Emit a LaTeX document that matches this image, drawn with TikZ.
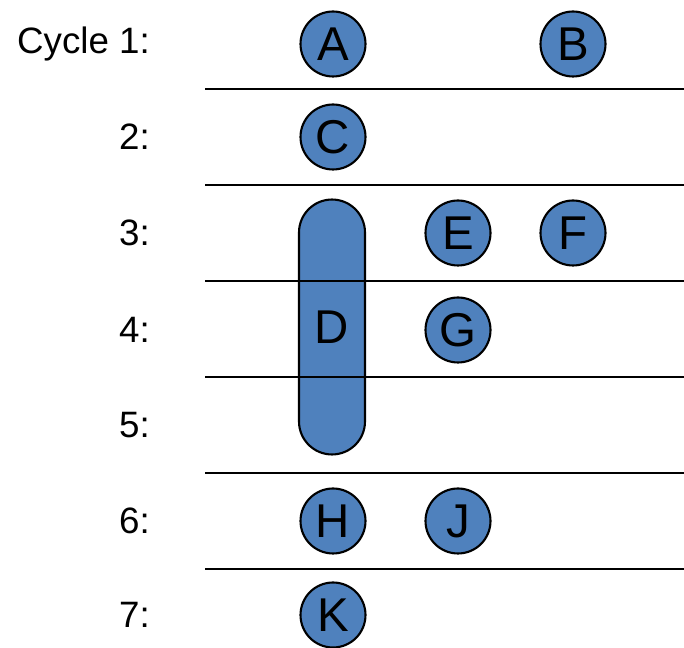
\documentclass[tikz,border=0pt]{standalone}
\usepackage{fontspec}
\setmainfont{Liberation Sans}
\usepackage{tikz}
\usetikzlibrary{positioning,calc}
\definecolor{opblue}{RGB}{79,129,189}
\tikzset{
    op/.style={circle,draw=black,line width=1.2pt,fill=opblue,minimum size=1.3cm,inner sep=0pt,
        font=\fontsize{27}{30}\selectfont},
    longop/.style={rectangle,rounded corners=0.66cm,draw=black,line width=1.2pt,fill=opblue,
        minimum width=1.32cm,minimum height=5.1cm,inner sep=0pt,font=\fontsize{27}{30}\selectfont},
    cyc/.style={anchor=east,font=\fontsize{20.9}{24}\selectfont},
    sep/.style={line width=0.8pt}
}
\begin{document}
\begin{tikzpicture}[x=0.02cm,y=-0.02cm]
    \useasboundingbox (0,0) rectangle (684,648);
    % Cycle labels
    \node[cyc] (c1) at (156,44) {Cycle 1:};
    \foreach \n/\y in {2/137,3/233,4/330,5/425,6/521,7/615}
        \node[cyc] (c\n) at (156,\y) {\n:};
    % Multi-cycle operation
    \node[longop] (D) at (332,327) {D};
    % Separators
    \foreach \y in {89,185,281,377,473,569}
        \draw[sep] (205,\y) -- (684,\y);
    % Single-cycle operations
    \node[op] (A) at (333,44) {A};
    \node[op] (B) at (573,44) {B};
    \node[op] (C) at (333,137) {C};
    \node[op] (E) at (458,233) {E};
    \node[op] (F) at (573,233) {F};
    \node[op] (G) at (458,330) {G};
    \node[op] (H) at (333,521) {H};
    \node[op] (J) at (458,521) {J};
    \node[op] (K) at (333,615) {K};
\end{tikzpicture}
\end{document}
